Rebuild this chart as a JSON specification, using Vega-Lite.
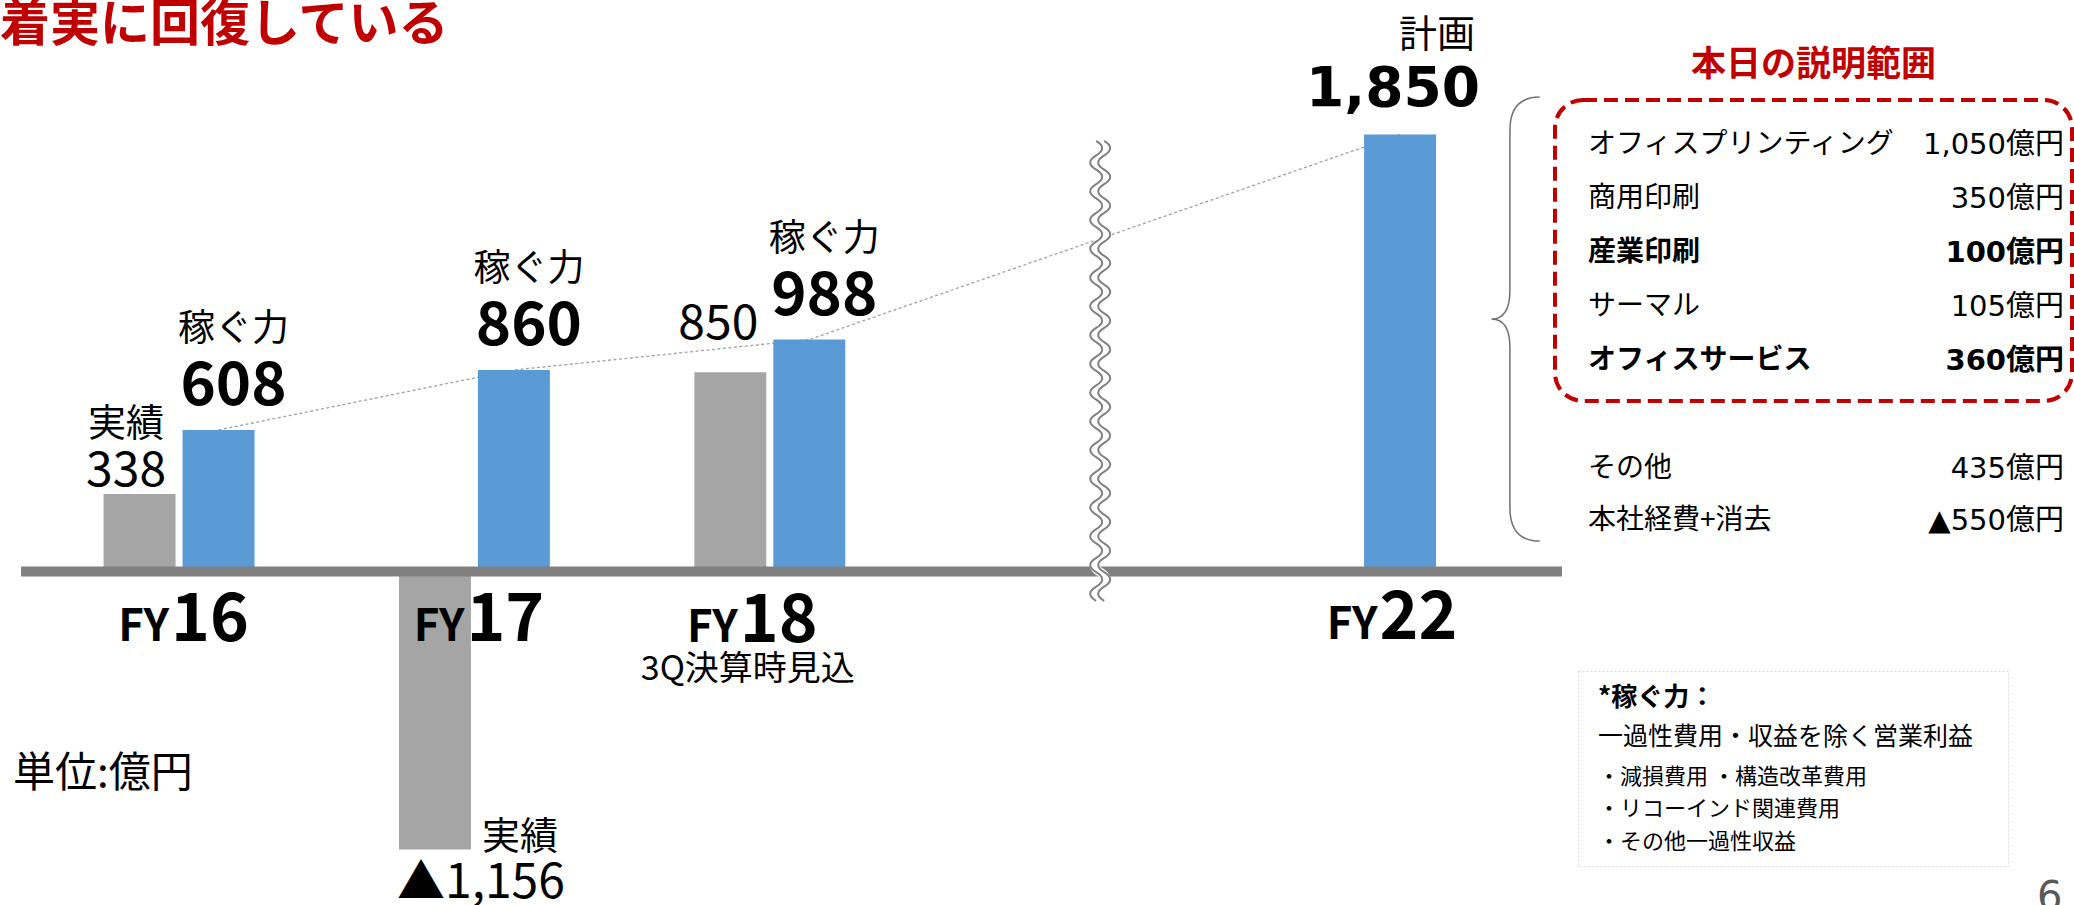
{
  "$schema": "https://vega.github.io/schema/vega-lite/v6.json",
  "padding": 0,
  "autosize": {"type": "pad"},
  "background": "#ffffff",
  "bounds": "flush",
  "spacing": 10,
  "resolve": {"scale": {"xOffset": "independent", "color": "independent"}},
  "config": {
    "view": {"stroke": null},
    "text": {"font": "Noto Sans CJK JP", "color": "#000000"},
    "title": {"font": "Noto Sans CJK JP"}
  },
  "title": {"text": "着実に回復している", "anchor": "start", "frame": "group", "fontSize": 50, "fontWeight": "bold", "color": "#C00000", "offset": -34},
  "datasets": {
    "bars": [
      {"年度": "FY16", "系列": "実績", "値": 338, "表示": "338", "注記": "実績"},
      {"年度": "FY16", "系列": "稼ぐ力", "値": 608, "表示": "608", "注記": "稼ぐ力"},
      {"年度": "FY17", "系列": "実績", "値": -1156, "表示": "▲1,156", "注記": "実績"},
      {"年度": "FY17", "系列": "稼ぐ力", "値": 860, "表示": "860", "注記": "稼ぐ力"},
      {"年度": "FY18", "系列": "実績", "値": 850, "表示": "850", "注記": ""},
      {"年度": "FY18", "系列": "稼ぐ力", "値": 988, "表示": "988", "注記": "稼ぐ力"},
      {"年度": "FY22", "系列": "稼ぐ力", "値": 1850, "表示": "1,850", "注記": "計画"}
    ],
    "years": [
      {"年度": "FY16", "接頭": "FY", "番号": "16", "補足": ""},
      {"年度": "FY17", "接頭": "FY", "番号": "17", "補足": ""},
      {"年度": "FY18", "接頭": "FY", "番号": "18", "補足": "3Q決算時見込"},
      {"年度": "FY22", "接頭": "FY", "番号": "22", "補足": ""}
    ],
    "table": [
      {"名称": "オフィスプリンティング", "金額": "1,050億円", "重点": false},
      {"名称": "商用印刷", "金額": "350億円", "重点": false},
      {"名称": "産業印刷", "金額": "100億円", "重点": true},
      {"名称": "サーマル", "金額": "105億円", "重点": false},
      {"名称": "オフィスサービス", "金額": "360億円", "重点": true}
    ],
    "others": [
      {"名称": "その他", "金額": "435億円"},
      {"名称": "本社経費+消去", "金額": "▲550億円"}
    ],
    "notes": [
      {"行": "1", "文": "*稼ぐ力：", "種別": "見出し"},
      {"行": "2", "文": "一過性費用・収益を除く営業利益", "種別": "定義"},
      {"行": "3", "文": "・減損費用 ・構造改革費用", "種別": "内訳"},
      {"行": "4", "文": "・リコーインド関連費用", "種別": "内訳"},
      {"行": "5", "文": "・その他一過性収益", "種別": "内訳"}
    ]
  },
  "hconcat": [
    {
      "width": 1545,
      "height": 855,
      "layer": [
        {
          "data": {"name": "bars"},
          "transform": [{"filter": "datum['系列'] === '稼ぐ力'"}],
          "mark": {"type": "line", "strokeDash": [3, 2.5], "strokeWidth": 1.3, "color": "#A0A0A0"},
          "encoding": {
            "x": {"field": "年度", "type": "nominal", "axis": null},
            "xOffset": {"field": "系列", "type": "nominal"},
            "y": {"field": "値", "type": "quantitative", "axis": null}
          }
        },
        {
          "data": {"name": "bars"},
          "mark": {"type": "bar"},
          "encoding": {
            "x": {"field": "年度", "type": "nominal",
              "scale": {"domain": ["FY16", "FY17", "FY18", "中断", "FY22"], "range": [21, 1562], "paddingInner": 0.489, "paddingOuter": 0.353, "align": 0.396},
              "axis": null},
            "xOffset": {"field": "系列", "type": "nominal", "scale": {"domain": ["実績", "稼ぐ力"], "paddingInner": 0.0886, "paddingOuter": 0}},
            "y": {"field": "値", "type": "quantitative", "scale": {"domain": [-1394, 2201.4], "nice": false, "zero": false}, "axis": null},
            "color": {"field": "系列", "type": "nominal", "scale": {"domain": ["実績", "稼ぐ力"], "range": ["#A5A5A5", "#5B9BD5"]}, "legend": null}
          }
        },
        {
          "data": {"values": [{"始点": "FY16", "終点": "FY22", "基準": 0}]},
          "mark": {"type": "rule", "color": "#808080", "strokeWidth": 10, "xOffset": -158, "x2Offset": 201.4, "yOffset": -3},
          "encoding": {
            "x": {"field": "始点", "type": "nominal", "axis": null},
            "x2": {"field": "終点"},
            "y": {"field": "基準", "type": "quantitative", "axis": null}
          }
        },
        {
          "data": {"values": [{"区切り": "中断"}]},
          "mark": {"type": "point", "shape": "M0 -1q0.052 0.03125 0 0.0625q-0.052 0.03125 0 0.0625q0.052 0.03125 0 0.0625q-0.052 0.03125 0 0.0625q0.052 0.03125 0 0.0625q-0.052 0.03125 0 0.0625q0.052 0.03125 0 0.0625q-0.052 0.03125 0 0.0625q0.052 0.03125 0 0.0625q-0.052 0.03125 0 0.0625q0.052 0.03125 0 0.0625q-0.052 0.03125 0 0.0625q0.052 0.03125 0 0.0625q-0.052 0.03125 0 0.0625q0.052 0.03125 0 0.0625q-0.052 0.03125 0 0.0625q0.052 0.03125 0 0.0625q-0.052 0.03125 0 0.0625q0.052 0.03125 0 0.0625q-0.052 0.03125 0 0.0625q0.052 0.03125 0 0.0625q-0.052 0.03125 0 0.0625q0.052 0.03125 0 0.0625q-0.052 0.03125 0 0.0625q0.052 0.03125 0 0.0625q-0.052 0.03125 0 0.0625q0.052 0.03125 0 0.0625q-0.052 0.03125 0 0.0625q0.052 0.03125 0 0.0625q-0.052 0.03125 0 0.0625q0.052 0.03125 0 0.0625q-0.052 0.03125 0 0.0625", "size": 211600, "filled": false, "color": "#ffffff", "strokeWidth": 9, "opacity": 1, "xOffset": 35},
          "encoding": {"x": {"field": "区切り", "type": "nominal", "axis": null}, "y": {"datum": 856, "axis": null}}
        },
        {
          "data": {"values": [{"区切り": "中断"}]},
          "mark": {"type": "point", "shape": "M-0.0174 -1q0.052 0.03125 0 0.0625q-0.052 0.03125 0 0.0625q0.052 0.03125 0 0.0625q-0.052 0.03125 0 0.0625q0.052 0.03125 0 0.0625q-0.052 0.03125 0 0.0625q0.052 0.03125 0 0.0625q-0.052 0.03125 0 0.0625q0.052 0.03125 0 0.0625q-0.052 0.03125 0 0.0625q0.052 0.03125 0 0.0625q-0.052 0.03125 0 0.0625q0.052 0.03125 0 0.0625q-0.052 0.03125 0 0.0625q0.052 0.03125 0 0.0625q-0.052 0.03125 0 0.0625q0.052 0.03125 0 0.0625q-0.052 0.03125 0 0.0625q0.052 0.03125 0 0.0625q-0.052 0.03125 0 0.0625q0.052 0.03125 0 0.0625q-0.052 0.03125 0 0.0625q0.052 0.03125 0 0.0625q-0.052 0.03125 0 0.0625q0.052 0.03125 0 0.0625q-0.052 0.03125 0 0.0625q0.052 0.03125 0 0.0625q-0.052 0.03125 0 0.0625q0.052 0.03125 0 0.0625q-0.052 0.03125 0 0.0625q0.052 0.03125 0 0.0625q-0.052 0.03125 0 0.0625M0.0174 -1q0.052 0.03125 0 0.0625q-0.052 0.03125 0 0.0625q0.052 0.03125 0 0.0625q-0.052 0.03125 0 0.0625q0.052 0.03125 0 0.0625q-0.052 0.03125 0 0.0625q0.052 0.03125 0 0.0625q-0.052 0.03125 0 0.0625q0.052 0.03125 0 0.0625q-0.052 0.03125 0 0.0625q0.052 0.03125 0 0.0625q-0.052 0.03125 0 0.0625q0.052 0.03125 0 0.0625q-0.052 0.03125 0 0.0625q0.052 0.03125 0 0.0625q-0.052 0.03125 0 0.0625q0.052 0.03125 0 0.0625q-0.052 0.03125 0 0.0625q0.052 0.03125 0 0.0625q-0.052 0.03125 0 0.0625q0.052 0.03125 0 0.0625q-0.052 0.03125 0 0.0625q0.052 0.03125 0 0.0625q-0.052 0.03125 0 0.0625q0.052 0.03125 0 0.0625q-0.052 0.03125 0 0.0625q0.052 0.03125 0 0.0625q-0.052 0.03125 0 0.0625q0.052 0.03125 0 0.0625q-0.052 0.03125 0 0.0625q0.052 0.03125 0 0.0625q-0.052 0.03125 0 0.0625", "size": 211600, "filled": false, "color": "#808080", "strokeWidth": 2, "opacity": 1, "xOffset": 35},
          "encoding": {"x": {"field": "区切り", "type": "nominal", "axis": null}, "y": {"datum": 856, "axis": null}}
        },
        {
          "data": {"values": [{"年度": "FY22"}]},
          "mark": {"type": "point", "shape": "M0.104 -1Q-0.03 -1 -0.03 -0.85L-0.03 -0.13Q-0.03 0 -0.113 0Q-0.03 0 -0.03 0.13L-0.03 0.85Q-0.03 1 0.104 1", "size": 197136, "filled": false, "color": "#707070", "strokeWidth": 1.5, "opacity": 1, "xOffset": 156},
          "encoding": {"x": {"field": "年度", "type": "nominal", "axis": null}, "y": {"datum": 1074, "axis": null}}
        },
        {
          "data": {"name": "bars"},
          "transform": [{"filter": "datum['系列'] === '稼ぐ力' && datum['年度'] !== 'FY22'"}],
          "mark": {"type": "text", "fontSize": 60, "fontWeight": "bold", "baseline": "middle", "dx": 15, "dy": -43},
          "encoding": {
            "x": {"field": "年度", "type": "nominal", "axis": null},
            "xOffset": {"field": "系列", "type": "nominal"},
            "y": {"field": "値", "type": "quantitative", "axis": null},
            "text": {"field": "表示"}
          }
        },
        {
          "data": {"name": "bars"},
          "transform": [{"filter": "datum['系列'] === '稼ぐ力' && datum['年度'] !== 'FY22'"}],
          "mark": {"type": "text", "fontSize": 37, "baseline": "middle", "dx": 15, "dy": -100},
          "encoding": {
            "x": {"field": "年度", "type": "nominal", "axis": null},
            "xOffset": {"field": "系列", "type": "nominal"},
            "y": {"field": "値", "type": "quantitative", "axis": null},
            "text": {"field": "注記"}
          }
        },
        {
          "data": {"name": "bars"},
          "transform": [{"filter": "datum['年度'] === 'FY22'"}],
          "mark": {"type": "text", "font": "DejaVu Sans", "fontSize": 55, "fontWeight": "bold", "baseline": "middle", "dx": -7, "dy": -46},
          "encoding": {
            "x": {"field": "年度", "type": "nominal", "axis": null},
            "xOffset": {"field": "系列", "type": "nominal"},
            "y": {"field": "値", "type": "quantitative", "axis": null},
            "text": {"field": "表示"}
          }
        },
        {
          "data": {"name": "bars"},
          "transform": [{"filter": "datum['年度'] === 'FY22'"}],
          "mark": {"type": "text", "fontSize": 38, "baseline": "middle", "dx": 37, "dy": -99},
          "encoding": {
            "x": {"field": "年度", "type": "nominal", "axis": null},
            "xOffset": {"field": "系列", "type": "nominal"},
            "y": {"field": "値", "type": "quantitative", "axis": null},
            "text": {"field": "注記"}
          }
        },
        {
          "data": {"name": "bars"},
          "transform": [{"filter": "datum['系列'] === '実績' && datum['年度'] === 'FY16'"}],
          "mark": {"type": "text", "fontSize": 48, "baseline": "middle", "dx": -13.5, "dy": -22},
          "encoding": {
            "x": {"field": "年度", "type": "nominal", "axis": null},
            "xOffset": {"field": "系列", "type": "nominal"},
            "y": {"field": "値", "type": "quantitative", "axis": null},
            "text": {"field": "表示"}
          }
        },
        {
          "data": {"name": "bars"},
          "transform": [{"filter": "datum['系列'] === '実績' && datum['年度'] === 'FY16'"}],
          "mark": {"type": "text", "fontSize": 38, "baseline": "middle", "dx": -13.5, "dy": -69},
          "encoding": {
            "x": {"field": "年度", "type": "nominal", "axis": null},
            "xOffset": {"field": "系列", "type": "nominal"},
            "y": {"field": "値", "type": "quantitative", "axis": null},
            "text": {"field": "注記"}
          }
        },
        {
          "data": {"name": "bars"},
          "transform": [{"filter": "datum['系列'] === '実績' && datum['年度'] === 'FY18'"}],
          "mark": {"type": "text", "fontSize": 48, "baseline": "middle", "dx": -12, "dy": -47},
          "encoding": {
            "x": {"field": "年度", "type": "nominal", "axis": null},
            "xOffset": {"field": "系列", "type": "nominal"},
            "y": {"field": "値", "type": "quantitative", "axis": null},
            "text": {"field": "表示"}
          }
        },
        {
          "data": {"name": "bars"},
          "transform": [{"filter": "datum['系列'] === '実績' && datum['年度'] === 'FY17'"}],
          "mark": {"type": "text", "fontSize": 48, "baseline": "middle", "dx": 46, "dy": 35},
          "encoding": {
            "x": {"field": "年度", "type": "nominal", "axis": null},
            "xOffset": {"field": "系列", "type": "nominal"},
            "y": {"field": "値", "type": "quantitative", "axis": null},
            "text": {"field": "表示"}
          }
        },
        {
          "data": {"name": "bars"},
          "transform": [{"filter": "datum['系列'] === '実績' && datum['年度'] === 'FY17'"}],
          "mark": {"type": "text", "fontSize": 38, "baseline": "middle", "dx": 85, "dy": -11},
          "encoding": {
            "x": {"field": "年度", "type": "nominal", "axis": null},
            "xOffset": {"field": "系列", "type": "nominal"},
            "y": {"field": "値", "type": "quantitative", "axis": null},
            "text": {"field": "注記"}
          }
        },
        {
          "data": {"name": "years"},
          "transform": [{"filter": "datum['年度'] === 'FY16' || datum['年度'] === 'FY17'"}],
          "mark": {"type": "text", "align": "right", "baseline": "alphabetic", "fontSize": 44, "fontWeight": "bold", "dx": -10, "dy": 66},
          "encoding": {"x": {"field": "年度", "type": "nominal", "axis": null}, "y": {"datum": 0, "axis": null}, "text": {"field": "接頭"}}
        },
        {
          "data": {"name": "years"},
          "transform": [{"filter": "datum['年度'] === 'FY16' || datum['年度'] === 'FY17'"}],
          "mark": {"type": "text", "align": "left", "baseline": "alphabetic", "fontSize": 66, "fontWeight": "bold", "dx": -8, "dy": 66},
          "encoding": {"x": {"field": "年度", "type": "nominal", "axis": null}, "y": {"datum": 0, "axis": null}, "text": {"field": "番号"}}
        },
        {
          "data": {"name": "years"},
          "transform": [{"filter": "datum['年度'] === 'FY18'"}],
          "mark": {"type": "text", "align": "right", "baseline": "alphabetic", "fontSize": 44, "fontWeight": "bold", "dx": -32, "dy": 67.5},
          "encoding": {"x": {"field": "年度", "type": "nominal", "axis": null}, "y": {"datum": 0, "axis": null}, "text": {"field": "接頭"}}
        },
        {
          "data": {"name": "years"},
          "transform": [{"filter": "datum['年度'] === 'FY18'"}],
          "mark": {"type": "text", "align": "left", "baseline": "alphabetic", "fontSize": 66, "fontWeight": "bold", "dx": -30, "dy": 67.5},
          "encoding": {"x": {"field": "年度", "type": "nominal", "axis": null}, "y": {"datum": 0, "axis": null}, "text": {"field": "番号"}}
        },
        {
          "data": {"name": "years"},
          "transform": [{"filter": "datum['年度'] === 'FY18'"}],
          "mark": {"type": "text", "align": "center", "baseline": "middle", "fontSize": 34, "dx": -22, "dy": 95.5},
          "encoding": {"x": {"field": "年度", "type": "nominal", "axis": null}, "y": {"datum": 0, "axis": null}, "text": {"field": "補足"}}
        },
        {
          "data": {"name": "years"},
          "transform": [{"filter": "datum['年度'] === 'FY22'"}],
          "mark": {"type": "text", "align": "right", "baseline": "alphabetic", "fontSize": 44, "fontWeight": "bold", "dx": 17, "dy": 64.5},
          "encoding": {"x": {"field": "年度", "type": "nominal", "axis": null}, "y": {"datum": 0, "axis": null}, "text": {"field": "接頭"}}
        },
        {
          "data": {"name": "years"},
          "transform": [{"filter": "datum['年度'] === 'FY22'"}],
          "mark": {"type": "text", "align": "left", "baseline": "alphabetic", "fontSize": 66, "fontWeight": "bold", "dx": 19, "dy": 64.5},
          "encoding": {"x": {"field": "年度", "type": "nominal", "axis": null}, "y": {"datum": 0, "axis": null}, "text": {"field": "番号"}}
        },
        {
          "data": {"values": [{"年度": "FY16", "注": "単位:億円"}]},
          "mark": {"type": "text", "align": "left", "baseline": "middle", "fontSize": 42, "dx": -166},
          "encoding": {"x": {"field": "年度", "type": "nominal", "axis": null}, "y": {"datum": -840, "axis": null}, "text": {"field": "注"}}
        }
      ]
    },
    {
      "vconcat": [
        {
          "width": 517,
          "height": 49,
          "data": {"values": [{"見出し": "本日の説明範囲"}]},
          "mark": {"type": "text", "fontSize": 35, "fontWeight": "bold", "color": "#C00000", "baseline": "middle", "dy": -10.5},
          "encoding": {"text": {"field": "見出し"}}
        },
        {
          "width": 517,
          "height": 301,
          "view": {"stroke": "#C00000", "strokeWidth": 4, "strokeDash": [14, 7], "cornerRadius": 28},
          "data": {"name": "table"},
          "layer": [
            {
              "transform": [{"filter": "!datum['重点']"}],
              "mark": {"type": "text", "align": "left", "baseline": "middle", "fontSize": 28},
              "encoding": {
                "x": {"datum": "名称", "type": "nominal", "scale": {"type": "point", "domain": ["名称", "金額"], "range": [33, 509], "padding": 0}, "axis": null},
                "y": {"field": "名称", "type": "nominal", "scale": {"type": "point", "domain": ["オフィスプリンティング", "商用印刷", "産業印刷", "サーマル", "オフィスサービス"], "range": [45, 261], "padding": 0}, "axis": null},
                "text": {"field": "名称"}
              }
            },
            {
              "transform": [{"filter": "datum['重点']"}],
              "mark": {"type": "text", "align": "left", "baseline": "middle", "fontSize": 28, "fontWeight": "bold"},
              "encoding": {
                "x": {"datum": "名称", "type": "nominal", "axis": null},
                "y": {"field": "名称", "type": "nominal", "axis": null},
                "text": {"field": "名称"}
              }
            },
            {
              "transform": [{"filter": "!datum['重点']"}],
              "mark": {"type": "text", "align": "right", "baseline": "middle", "fontSize": 29, "font": "DejaVu Sans, Noto Sans CJK JP"},
              "encoding": {
                "x": {"datum": "金額", "type": "nominal", "axis": null},
                "y": {"field": "名称", "type": "nominal", "axis": null},
                "text": {"field": "金額"}
              }
            },
            {
              "transform": [{"filter": "datum['重点']"}],
              "mark": {"type": "text", "align": "right", "baseline": "middle", "fontSize": 29, "fontWeight": "bold", "font": "DejaVu Sans, Noto Sans CJK JP"},
              "encoding": {
                "x": {"datum": "金額", "type": "nominal", "axis": null},
                "y": {"field": "名称", "type": "nominal", "axis": null},
                "text": {"field": "金額"}
              }
            }
          ]
        },
        {
          "width": 517,
          "height": 270,
          "data": {"name": "others"},
          "layer": [
            {
              "mark": {"type": "text", "align": "left", "baseline": "middle", "fontSize": 28},
              "encoding": {
                "x": {"datum": "名称", "type": "nominal", "scale": {"type": "point", "domain": ["名称", "金額"], "range": [33, 509], "padding": 0}, "axis": null},
                "y": {"field": "名称", "type": "nominal", "scale": {"type": "point", "domain": ["その他", "本社経費+消去"], "range": [68, 120], "padding": 0}, "axis": null},
                "text": {"field": "名称"}
              }
            },
            {
              "mark": {"type": "text", "align": "right", "baseline": "middle", "fontSize": 29, "font": "DejaVu Sans, Noto Sans CJK JP"},
              "encoding": {
                "x": {"datum": "金額", "type": "nominal", "axis": null},
                "y": {"field": "名称", "type": "nominal", "axis": null},
                "text": {"field": "金額"}
              }
            }
          ]
        },
        {
          "hconcat": [
            {
              "width": 3,
              "height": 195,
              "data": {"values": []},
              "mark": {"type": "point"}
            },
            {
              "width": 430,
              "height": 195,
              "view": {"stroke": "#D9D9D9", "strokeWidth": 1, "strokeDash": [2, 2]},
              "data": {"name": "notes"},
              "layer": [
                {
                  "transform": [{"filter": "datum['種別'] === '見出し'"}],
                  "mark": {"type": "text", "align": "left", "baseline": "middle", "fontSize": 26, "fontWeight": "bold", "dy": -13},
                  "encoding": {
                    "x": {"datum": "注", "type": "nominal", "scale": {"type": "point", "domain": ["注"], "align": 0.0465}, "axis": null},
                    "y": {"field": "行", "type": "nominal", "scale": {"type": "point", "domain": ["1", "2", "3", "4", "5"], "range": [40, 171], "padding": 0}, "axis": null},
                    "text": {"field": "文"}
                  }
                },
                {
                  "transform": [{"filter": "datum['種別'] === '定義'"}],
                  "mark": {"type": "text", "align": "left", "baseline": "middle", "fontSize": 25, "dy": -7},
                  "encoding": {
                    "x": {"datum": "注", "type": "nominal", "axis": null},
                    "y": {"field": "行", "type": "nominal", "axis": null},
                    "text": {"field": "文"}
                  }
                },
                {
                  "transform": [{"filter": "datum['種別'] === '内訳'"}],
                  "mark": {"type": "text", "align": "left", "baseline": "middle", "fontSize": 22},
                  "encoding": {
                    "x": {"datum": "注", "type": "nominal", "axis": null},
                    "y": {"field": "行", "type": "nominal", "axis": null},
                    "text": {"field": "文"}
                  }
                },
                {
                  "data": {"values": [{"行": "5", "頁": "6"}]},
                  "mark": {"type": "text", "align": "left", "baseline": "alphabetic", "fontSize": 40, "font": "DejaVu Sans", "color": "#595959", "dx": 439, "dy": 68},
                  "encoding": {
                    "x": {"datum": "注", "type": "nominal", "axis": null},
                    "y": {"field": "行", "type": "nominal", "axis": null},
                    "text": {"field": "頁"}
                  }
                }
              ]
            }
          ],
          "spacing": 20,
          "bounds": "flush"
        }
      ],
      "spacing": 0,
      "bounds": "flush"
    }
  ]
}
